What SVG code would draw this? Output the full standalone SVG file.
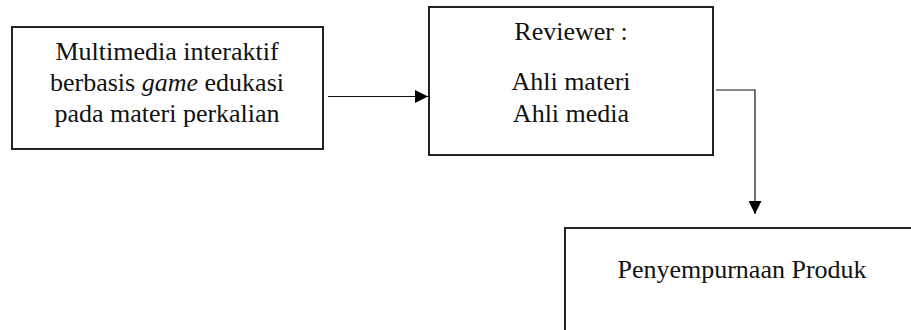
<svg xmlns="http://www.w3.org/2000/svg" width="911" height="330" viewBox="0 0 911 330">
<style>
.box{fill:#fff;stroke:#222;stroke-width:2}
.t{font-family:'Liberation Serif','Times New Roman','DejaVu Serif',serif;font-size:26px;fill:#111;text-anchor:middle}
.c{fill:none;stroke:#111;stroke-width:1.2}
</style>
<defs>
<marker id="ah2" viewBox="0 0 13 13" refX="13" refY="6.5" markerWidth="13" markerHeight="13" markerUnits="userSpaceOnUse" orient="auto">
<path d="M0,0 L13,6.5 L0,13 z" fill="#000"/>
</marker>
</defs>
<rect width="911" height="330" fill="#fff"/>
<g id="node-multimedia">
<rect class="box" x="12" y="27" width="311" height="122"/>
<text class="t" x="167" y="60">Multimedia interaktif</text>
<text class="t" x="167" y="91">berbasis <tspan font-style="italic">game</tspan> edukasi</text>
<text class="t" x="167" y="122">pada materi perkalian</text>
</g>
<g id="node-reviewer">
<rect class="box" x="429" y="7" width="284" height="148"/>
<text class="t" x="571" y="40">Reviewer :</text>
<text class="t" x="571" y="90">Ahli materi</text>
<text class="t" x="571" y="122">Ahli media</text>
</g>
<g id="node-penyempurnaan">
<rect class="box" x="565" y="228" width="400" height="150"/>
<text class="t" x="742" y="278">Penyempurnaan Produk</text>
</g>
<g id="connectors">
<path class="c" d="M328,96.5 H428" marker-end="url(#ah2)"/>
<path class="c" d="M716,90 H755 V214" marker-end="url(#ah2)"/>
</g>
</svg>
